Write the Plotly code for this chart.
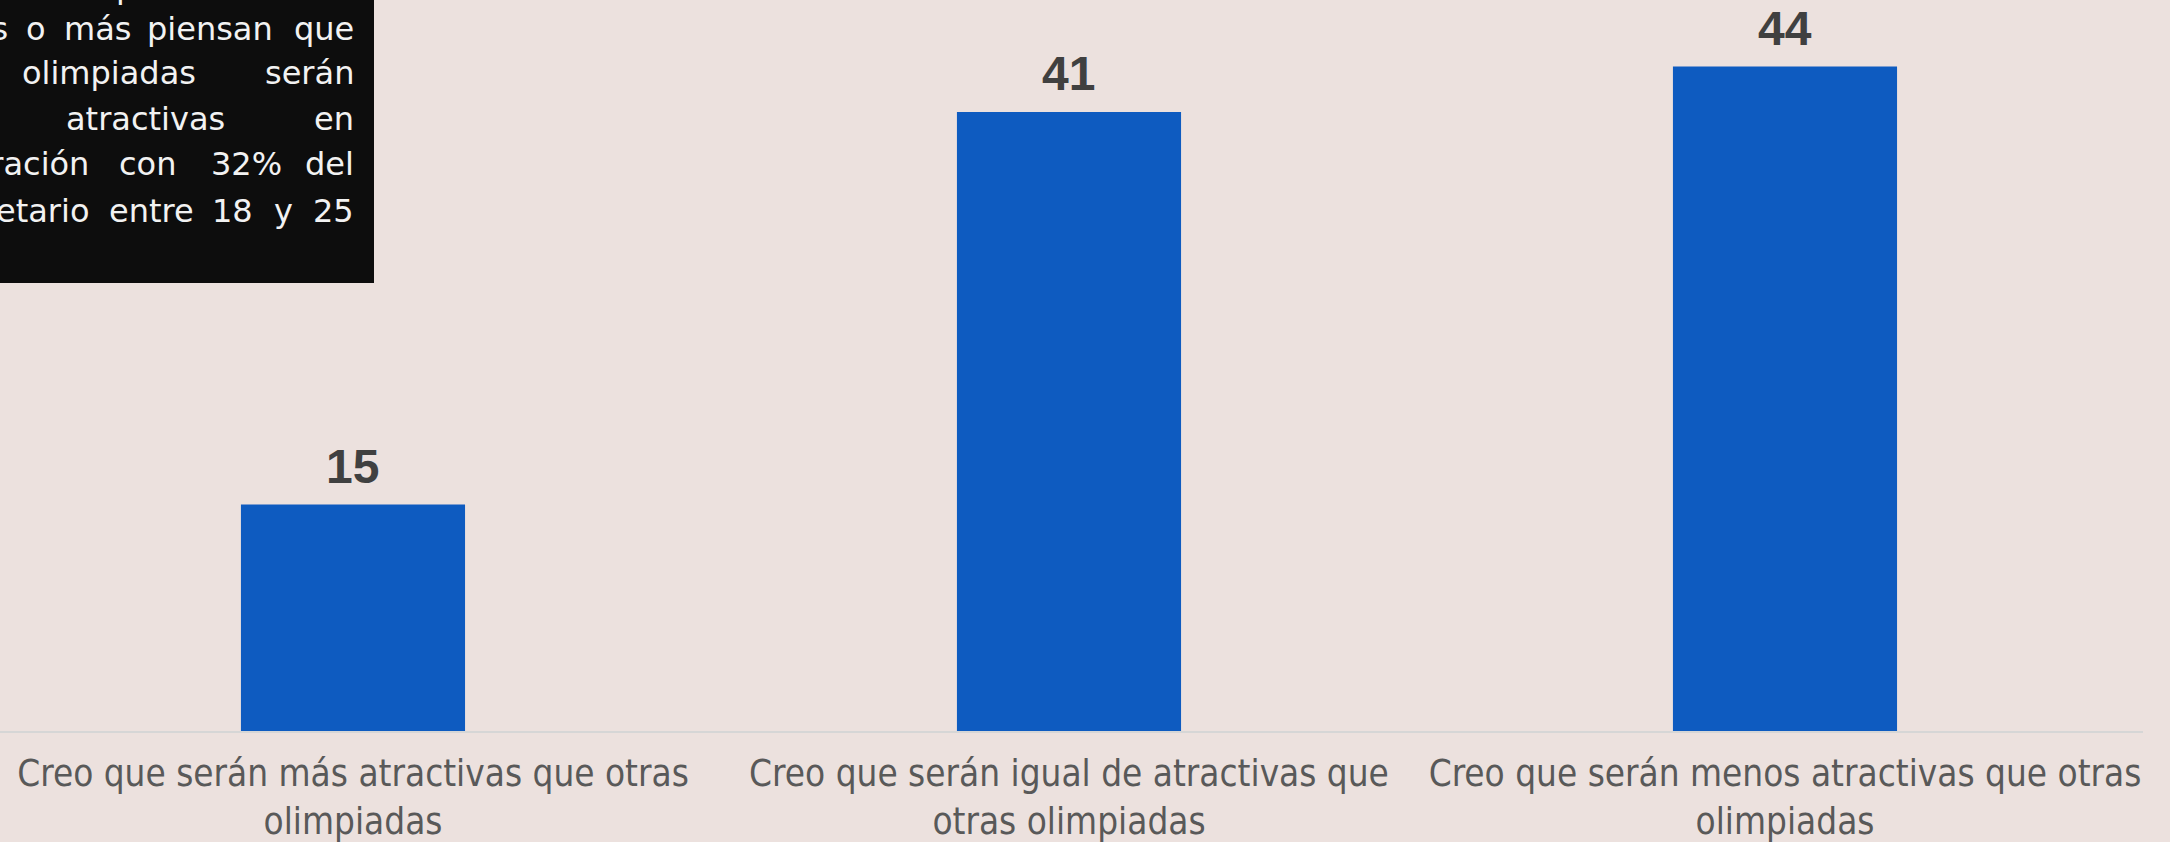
import plotly.graph_objects as go

# ---- data ----
categories = ["mas", "igual", "menos"]
tick_labels = [
    "Creo que serán más atractivas que otras<br>olimpiadas",
    "Creo que serán igual de atractivas que<br>otras olimpiadas",
    "Creo que serán menos atractivas que otras<br>olimpiadas",
]
values = [15, 41, 44]

# text box (partially cut off at the top-left edge of the slide)
box_lines = [
    [("las", "r", 60), ("personas", "l", 114), ("de", "l", 268), ("26", "r", 356)],
    [("años", "r", 10), ("o", "l", 24), ("más", "l", 62), ("piensan", "l", 145), ("que", "r", 356)],
    [("las", "r", -45), ("olimpiadas", "l", 20), ("serán", "r", 356)],
    [("menos", "r", -5), ("atractivas", "l", 64), ("en", "r", 356)],
    [("comparación", "r", 91), ("con", "l", 117), ("32%", "l", 209), ("del", "r", 356)],
    [("grupo", "r", -20), ("etario", "r", 91), ("entre", "l", 107), ("18", "l", 210), ("y", "l", 272), ("25", "r", 356)],
]
box_baselines = [-2, 40, 84, 130, 175, 222]

W, H = 2170, 842
ML, MR, MT, MB = 0, 27, 0, 111
PW = W - ML - MR
PH = H - MT - MB

BG = "#ECE1DE"
BAR = "#0E5BC0"

fig = go.Figure()
fig.add_trace(go.Bar(
    x=categories, y=values, width=0.313,
    marker=dict(color=BAR, line=dict(width=0)),
    hoverinfo="skip",
))

annotations = []
for c, v in zip(categories, values):
    annotations.append(dict(
        x=c, y=v, xref="x", yref="y", text=str(v), showarrow=False,
        xanchor="center", yanchor="bottom", yshift=10,
        font=dict(family="Liberation Sans, Arial, sans-serif", size=48,
                  color="#404040", weight="bold"),
    ))

# black text box
shapes = [dict(
    type="rect", xref="paper", yref="paper",
    x0=-0.05, x1=374 / PW, y0=(PH - 283) / PH, y1=1.05,
    fillcolor="#0D0D0D", line=dict(width=0), layer="above",
)]
FS = 32
for words, base in zip(box_lines, box_baselines):
    ymid = base - 0.346 * FS
    for w, anc, px in words:
        annotations.append(dict(
            x=px / PW, y=(PH - ymid) / PH, xref="paper", yref="paper",
            text=w, showarrow=False,
            xanchor="left" if anc == "l" else "right", yanchor="middle",
            font=dict(family="DejaVu Sans, sans-serif", size=FS, color="#F2F2F2"),
        ))

fig.update_layout(
    width=W, height=H,
    margin=dict(l=ML, r=MR, t=MT, b=MB, autoexpand=False),
    paper_bgcolor=BG, plot_bgcolor=BG,
    showlegend=False,
    shapes=shapes,
    annotations=annotations,
    xaxis=dict(
        range=[-0.493, 2.5], automargin=False,
        tickvals=categories, ticktext=tick_labels,
        showline=True, linecolor="#D6D6D6", linewidth=2,
        showgrid=False, zeroline=False, ticks="",
        ticklabelstandoff=9,
        tickfont=dict(family="DejaVu Sans Condensed, DejaVu Sans, sans-serif", size=36.6, color="#595959"),
    ),
    yaxis=dict(range=[0, PH / 15.1], visible=False, automargin=False,
               showgrid=False, zeroline=False),
)

fig.write_html(
    "out.html",
    config={"displayModeBar": False},
    post_script="document.body.style.margin='0';document.body.style.overflow='hidden';",
)
